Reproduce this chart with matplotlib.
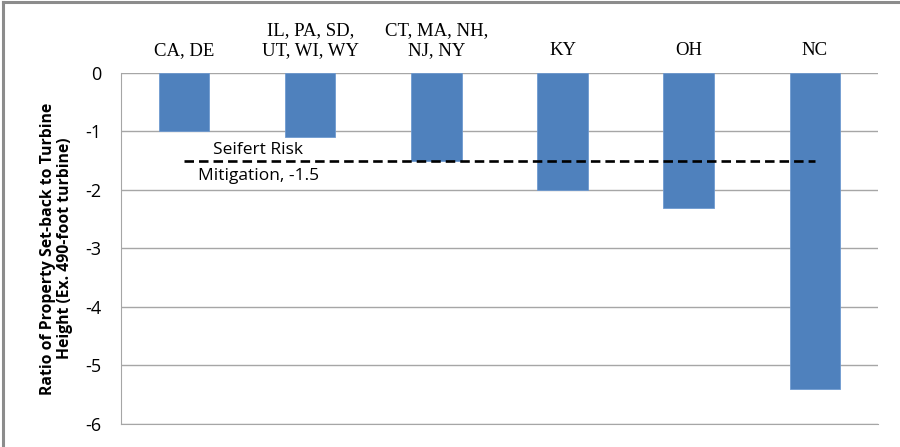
import matplotlib
matplotlib.use("Agg")
import matplotlib.pyplot as plt
from matplotlib.lines import Line2D

# State groups and their set-back ratios
categories = ["CA, DE", "IL, PA, SD,\nUT, WI, WY", "CT, MA, NH,\nNJ, NY", "KY", "OH", "NC"]
ratios = [-1.0, -1.1, -1.5, -2.0, -2.3, -5.4]
mitigation_value = -1.5
mitigation_label = "Seifert Risk\nMitigation, -1.5"
y_ticks = [0, -1, -2, -3, -4, -5, -6]

fig = plt.figure(figsize=(9.0, 4.47), dpi=100)
ax = fig.add_axes([0.1344, 0.0515, 0.8411, 0.7852])

x = list(range(len(categories)))
ax.bar(x, ratios, width=0.4, color="#4f81bd", edgecolor="#6f9ad0", linewidth=0.6, zorder=3)

# Reference line spanning first to last category
ax.plot([x[0], x[-1]], [mitigation_value, mitigation_value], color="black",
        linewidth=1.9, linestyle=(0, (3.6, 1.9)), zorder=4)
top_line, bottom_line = mitigation_label.split("\n")
ax.annotate(top_line, (0.59, mitigation_value), xytext=(0, 2), textcoords="offset points",
            ha="center", va="bottom", fontsize=12.5, family="Open Sans", zorder=5)
ax.annotate(bottom_line, (0.59, mitigation_value), xytext=(0, -5), textcoords="offset points",
            ha="center", va="top", fontsize=12.5, family="Open Sans", zorder=5)

ax.set_xlim(-0.5, len(categories) - 0.5)
ax.set_ylim(-6, 0)
ax.set_yticks(y_ticks)
ax.set_yticklabels([str(v) for v in y_ticks], family="Open Sans", fontsize=13)
ax.yaxis.grid(True, color="#a6a6a6", linewidth=1.0, zorder=0)
ax.set_axisbelow(True)

ax.xaxis.tick_top()
ax.set_xticks(x)
ax.set_xticklabels(categories, family="Liberation Serif", fontsize=13.5, linespacing=1.2)
ax.tick_params(axis="x", length=0, pad=10)
ax.tick_params(axis="y", length=0, pad=14)

for side in ["top", "right"]:
    ax.spines[side].set_visible(False)
ax.spines["left"].set_color("#a6a6a6")
ax.spines["bottom"].set_color("#a6a6a6")

ax.set_ylabel("Ratio of Property Set-back to Turbine\nHeight (Ex. 490-foot turbine)",
              family="Open Sans", fontweight="bold", fontsize=11.3, linespacing=1.05,
              labelpad=9)

# Frame along the left and top edges of the figure
fig.add_artist(Line2D([0.0035, 0.0035], [0, 0.9955], transform=fig.transFigure,
                      color="#8c8c8c", linewidth=2.2))
fig.add_artist(Line2D([0.0035, 1.0], [0.9955, 0.9955], transform=fig.transFigure,
                      color="#8c8c8c", linewidth=2.2))

fig.savefig("out.png", dpi=100)
